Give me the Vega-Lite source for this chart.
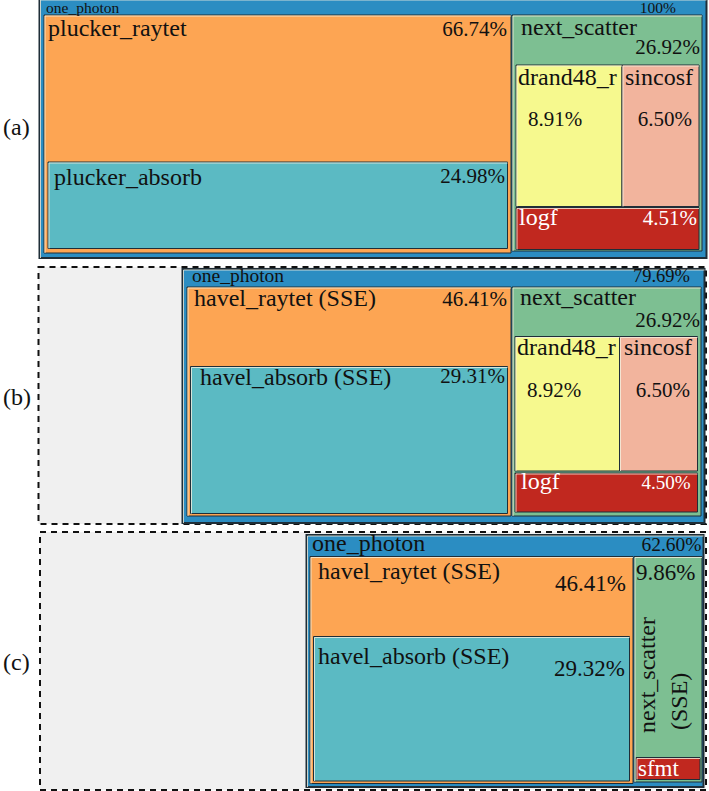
{
  "$schema": "https://vega.github.io/schema/vega-lite/v6.json",
  "width": 709,
  "height": 791,
  "autosize": "none",
  "padding": 0,
  "background": "white",
  "config": {"view": {"stroke": null}},
  "datasets": {
    "boxes": [
      {"panel": "b", "node": "frame", "x": 38.5, "x2": 706, "y": 267, "y2": 524},
      {"panel": "c", "node": "frame", "x": 40, "x2": 706, "y": 532, "y2": 790},
      {"panel": "a", "node": "one_photon", "x": 39.5, "x2": 706.5, "y": -1, "y2": 258},
      {"panel": "a", "node": "plucker_raytet", "x": 44, "x2": 511, "y": 15, "y2": 253},
      {"panel": "a", "node": "plucker_absorb", "x": 48, "x2": 507.5, "y": 162, "y2": 248.5},
      {"panel": "a", "node": "next_scatter", "x": 512, "x2": 702, "y": 15, "y2": 251},
      {"panel": "a", "node": "drand48_r", "x": 516, "x2": 622, "y": 65, "y2": 206.5},
      {"panel": "a", "node": "sincosf", "x": 622, "x2": 699, "y": 65, "y2": 206.5},
      {"panel": "a", "node": "logf", "x": 516, "x2": 699, "y": 207.5, "y2": 249.5},
      {"panel": "b", "node": "one_photon", "x": 182.5, "x2": 704.5, "y": 269, "y2": 523},
      {"panel": "b", "node": "havel_raytet", "x": 187, "x2": 511, "y": 287, "y2": 516},
      {"panel": "b", "node": "havel_absorb", "x": 190.5, "x2": 507.5, "y": 366.5, "y2": 513.5},
      {"panel": "b", "node": "next_scatter", "x": 512, "x2": 701, "y": 287, "y2": 516},
      {"panel": "b", "node": "drand48_r", "x": 515, "x2": 619.5, "y": 336.5, "y2": 471},
      {"panel": "b", "node": "sincosf", "x": 619.5, "x2": 697.5, "y": 336.5, "y2": 471},
      {"panel": "b", "node": "logf", "x": 515, "x2": 697.5, "y": 473, "y2": 512},
      {"panel": "c", "node": "one_photon", "x": 306.5, "x2": 703.5, "y": 535, "y2": 787},
      {"panel": "c", "node": "havel_raytet", "x": 310, "x2": 633, "y": 556.5, "y2": 783.5},
      {"panel": "c", "node": "havel_absorb", "x": 313.5, "x2": 629.5, "y": 636.5, "y2": 781},
      {"panel": "c", "node": "next_scatter", "x": 634, "x2": 702, "y": 556.5, "y2": 782},
      {"panel": "c", "node": "sfmt", "x": 636, "x2": 700, "y": 757.5, "y2": 779.5}
    ],
    "labels": [
      {"panel": "a", "node": "panel", "role": "panel", "anchor": "start", "text": "(a)", "x": 3, "y": 135},
      {"panel": "b", "node": "panel", "role": "panel", "anchor": "start", "text": "(b)", "x": 3, "y": 405},
      {"panel": "c", "node": "panel", "role": "panel", "anchor": "start", "text": "(c)", "x": 3, "y": 669.5},
      {"panel": "a", "node": "one_photon", "role": "headA", "anchor": "start", "text": "one_photon", "x": 46, "y": 12.5},
      {"panel": "a", "node": "one_photon", "role": "headA", "anchor": "end", "text": "100%", "x": 676, "y": 13},
      {"panel": "a", "node": "plucker_raytet", "role": "name", "anchor": "start", "text": "plucker_raytet", "x": 48, "y": 36},
      {"panel": "a", "node": "plucker_raytet", "role": "pct", "anchor": "end", "text": "66.74%", "x": 507, "y": 36},
      {"panel": "a", "node": "next_scatter", "role": "name", "anchor": "start", "text": "next_scatter", "x": 521, "y": 35},
      {"panel": "a", "node": "next_scatter", "role": "pct", "anchor": "end", "text": "26.92%", "x": 700, "y": 54},
      {"panel": "a", "node": "drand48_r", "role": "name", "anchor": "start", "text": "drand48_r", "x": 518, "y": 85},
      {"panel": "a", "node": "sincosf", "role": "name", "anchor": "start", "text": "sincosf", "x": 625, "y": 85},
      {"panel": "a", "node": "drand48_r", "role": "pct", "anchor": "start", "text": "8.91%", "x": 528, "y": 126},
      {"panel": "a", "node": "sincosf", "role": "pct", "anchor": "end", "text": "6.50%", "x": 692, "y": 126},
      {"panel": "a", "node": "plucker_absorb", "role": "name", "anchor": "start", "text": "plucker_absorb", "x": 54, "y": 184.5},
      {"panel": "a", "node": "plucker_absorb", "role": "pct", "anchor": "end", "text": "24.98%", "x": 505, "y": 183},
      {"panel": "a", "node": "logf", "role": "name", "anchor": "start", "text": "logf", "x": 519, "y": 225},
      {"panel": "a", "node": "logf", "role": "pct", "anchor": "end", "text": "4.51%", "x": 697, "y": 225},
      {"panel": "b", "node": "one_photon", "role": "headB", "anchor": "start", "text": "one_photon", "x": 192, "y": 281.5},
      {"panel": "b", "node": "one_photon", "role": "headBpct", "anchor": "end", "text": "79.69%", "x": 690, "y": 282},
      {"panel": "b", "node": "havel_raytet", "role": "name", "anchor": "start", "text": "havel_raytet (SSE)", "x": 194, "y": 306},
      {"panel": "b", "node": "havel_raytet", "role": "pct", "anchor": "end", "text": "46.41%", "x": 507, "y": 306},
      {"panel": "b", "node": "next_scatter", "role": "name", "anchor": "start", "text": "next_scatter", "x": 520, "y": 305},
      {"panel": "b", "node": "next_scatter", "role": "pct", "anchor": "end", "text": "26.92%", "x": 700, "y": 327},
      {"panel": "b", "node": "drand48_r", "role": "name", "anchor": "start", "text": "drand48_r", "x": 517, "y": 355},
      {"panel": "b", "node": "sincosf", "role": "name", "anchor": "start", "text": "sincosf", "x": 624, "y": 355},
      {"panel": "b", "node": "havel_absorb", "role": "name", "anchor": "start", "text": "havel_absorb (SSE)", "x": 200, "y": 385},
      {"panel": "b", "node": "havel_absorb", "role": "pct", "anchor": "end", "text": "29.31%", "x": 505, "y": 383},
      {"panel": "b", "node": "drand48_r", "role": "pct", "anchor": "start", "text": "8.92%", "x": 527, "y": 397},
      {"panel": "b", "node": "sincosf", "role": "pct", "anchor": "end", "text": "6.50%", "x": 690, "y": 397},
      {"panel": "b", "node": "logf", "role": "name", "anchor": "start", "text": "logf", "x": 521, "y": 489},
      {"panel": "b", "node": "logf", "role": "pctSmall", "anchor": "end", "text": "4.50%", "x": 690.5, "y": 489},
      {"panel": "c", "node": "one_photon", "role": "headC", "anchor": "start", "text": "one_photon", "x": 312, "y": 550.5},
      {"panel": "c", "node": "one_photon", "role": "headCpct", "anchor": "end", "text": "62.60%", "x": 701.5, "y": 550.5},
      {"panel": "c", "node": "havel_raytet", "role": "name", "anchor": "start", "text": "havel_raytet (SSE)", "x": 318, "y": 579},
      {"panel": "c", "node": "havel_raytet", "role": "pctC", "anchor": "end", "text": "46.41%", "x": 626, "y": 591},
      {"panel": "c", "node": "next_scatter", "role": "pctC", "anchor": "start", "text": "9.86%", "x": 636, "y": 580},
      {"panel": "c", "node": "havel_absorb", "role": "name", "anchor": "start", "text": "havel_absorb (SSE)", "x": 318, "y": 664},
      {"panel": "c", "node": "havel_absorb", "role": "pctC", "anchor": "end", "text": "29.32%", "x": 625, "y": 676},
      {"panel": "c", "node": "next_scatter", "role": "name", "anchor": "up", "text": "next_scatter", "x": 655, "y": 733},
      {"panel": "c", "node": "next_scatter", "role": "name", "anchor": "up", "text": "(SSE)", "x": 687, "y": 730},
      {"panel": "c", "node": "sfmt", "role": "pctC", "anchor": "start", "text": "sfmt", "x": 638, "y": 775.5}
    ]
  },
  "layer": [
    {
      "data": {"name": "boxes"},
      "transform": [{"filter": "datum.node === 'frame'"}],
      "mark": {"type": "rect", "fill": "#f0f0f0", "stroke": "#111111", "strokeWidth": 2, "strokeDash": [6, 5]},
      "encoding": {
        "x": {"field": "x", "type": "quantitative", "scale": {"domain": [0, 709], "nice": false, "zero": false}, "axis": null},
        "x2": {"field": "x2"},
        "y": {"field": "y", "type": "quantitative", "scale": {"domain": [0, 791], "nice": false, "zero": false, "reverse": true}, "axis": null},
        "y2": {"field": "y2"}
      }
    },
    {
      "data": {"name": "boxes"},
      "transform": [{"filter": "datum.node !== 'frame'"}],
      "mark": {"type": "rect", "stroke": "#1f2e38"},
      "encoding": {
        "x": {"field": "x", "type": "quantitative"},
        "x2": {"field": "x2"},
        "y": {"field": "y", "type": "quantitative"},
        "y2": {"field": "y2"},
        "strokeWidth": {"condition": {"test": "datum.node === 'one_photon'", "value": 2}, "value": 1},
        "fill": {
          "field": "node", "type": "nominal", "legend": null,
          "scale": {
            "domain": ["one_photon", "plucker_raytet", "havel_raytet", "plucker_absorb", "havel_absorb", "next_scatter", "drand48_r", "sincosf", "logf", "sfmt"],
            "range": ["#2b8dc2", "#fda553", "#fda553", "#5bbac3", "#5bbac3", "#7dbf92", "#f6f98e", "#f2b49d", "#c1281f", "#c1281f"]
          }
        }
      }
    },
    {
      "data": {"name": "boxes"},
      "transform": [{"filter": "datum.node !== 'frame'"}],
      "mark": {"type": "rule", "stroke": "#f4f0e0", "strokeWidth": 1, "opacity": 0.8, "xOffset": 1, "yOffset": 1},
      "encoding": {
        "x": {"field": "x", "type": "quantitative"},
        "x2": {"field": "x2"},
        "y": {"field": "y", "type": "quantitative"}
      }
    },
    {
      "data": {"name": "boxes"},
      "transform": [{"filter": "datum.node !== 'frame'"}],
      "mark": {"type": "rule", "stroke": "#f4f0e0", "strokeWidth": 1, "opacity": 0.8, "xOffset": 1, "yOffset": 1},
      "encoding": {
        "x": {"field": "x", "type": "quantitative"},
        "y": {"field": "y", "type": "quantitative"},
        "y2": {"field": "y2"}
      }
    },
    {
      "data": {"name": "labels"},
      "transform": [{"filter": "datum.anchor === 'start'"}],
      "mark": {"type": "text", "align": "left", "baseline": "alphabetic", "font": "Liberation Serif"},
      "encoding": {
        "x": {"field": "x", "type": "quantitative"},
        "y": {"field": "y", "type": "quantitative"},
        "text": {"field": "text"},
        "size": {"condition": [
          {"test": "datum.role === 'headA'", "value": 15.5},
          {"test": "datum.role === 'headB'", "value": 19.5},
          {"test": "datum.role === 'headBpct'", "value": 18.5},
          {"test": "datum.role === 'headCpct'", "value": 19.5},
          {"test": "datum.role === 'pct'", "value": 21},
          {"test": "datum.role === 'pctC'", "value": 23},
          {"test": "datum.role === 'pctSmall'", "value": 19}
        ], "value": 24},
        "color": {"condition": {"test": "datum.node === 'logf' || datum.node === 'sfmt'", "value": "#ffffff"}, "value": "#111111"}
      }
    },
    {
      "data": {"name": "labels"},
      "transform": [{"filter": "datum.anchor === 'end'"}],
      "mark": {"type": "text", "align": "right", "baseline": "alphabetic", "font": "Liberation Serif"},
      "encoding": {
        "x": {"field": "x", "type": "quantitative"},
        "y": {"field": "y", "type": "quantitative"},
        "text": {"field": "text"},
        "size": {"condition": [
          {"test": "datum.role === 'headA'", "value": 15.5},
          {"test": "datum.role === 'headB'", "value": 19.5},
          {"test": "datum.role === 'headBpct'", "value": 18.5},
          {"test": "datum.role === 'headCpct'", "value": 19.5},
          {"test": "datum.role === 'pct'", "value": 21},
          {"test": "datum.role === 'pctC'", "value": 23},
          {"test": "datum.role === 'pctSmall'", "value": 19}
        ], "value": 24},
        "color": {"condition": {"test": "datum.node === 'logf' || datum.node === 'sfmt'", "value": "#ffffff"}, "value": "#111111"}
      }
    },
    {
      "data": {"name": "labels"},
      "transform": [{"filter": "datum.anchor === 'up'"}],
      "mark": {"type": "text", "align": "left", "baseline": "alphabetic", "angle": 270, "font": "Liberation Serif", "fontSize": 24},
      "encoding": {
        "x": {"field": "x", "type": "quantitative"},
        "y": {"field": "y", "type": "quantitative"},
        "text": {"field": "text"},
        "color": {"value": "#111111"}
      }
    }
  ]
}
